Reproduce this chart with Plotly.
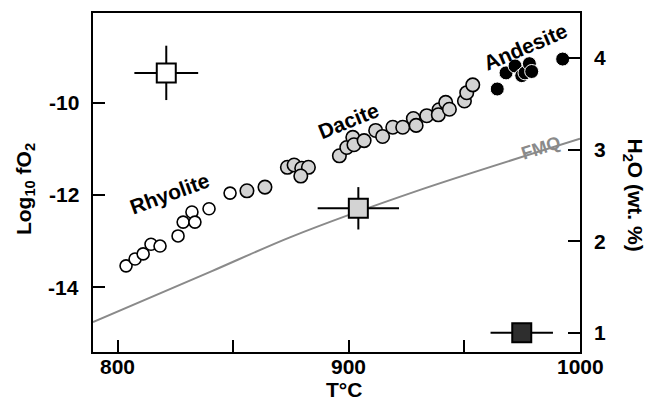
import plotly.graph_objects as go

# ---- data ----
rhy_T = [803.6, 807.5, 811.0, 814.4, 818.3, 826.1, 828.3, 832.1, 833.4, 839.5, 848.6]
rhy_fo2 = [-13.54, -13.39, -13.28, -13.07, -13.11, -12.89, -12.59, -12.37, -12.59, -12.30, -11.96]

dac_T = [855.9, 863.7, 873.4, 876.3, 879.6, 882.5, 879.2, 895.9, 899.1, 901.7, 902.2,
         906.6, 911.6, 914.6, 919.0, 923.3, 927.9, 929.1, 933.7, 939.0, 938.7, 941.9,
         943.5, 950.0, 951.0, 953.6]
dac_fo2 = [-11.91, -11.83, -11.40, -11.35, -11.42, -11.40, -11.59, -11.15, -10.97, -10.75, -10.91,
           -10.82, -10.60, -10.73, -10.53, -10.53, -10.34, -10.49, -10.28, -10.15, -10.26, -9.99,
           -10.14, -9.96, -9.78, -9.61]

and_T = [964.2, 968.0, 971.9, 974.8, 976.2, 978.1, 979.1, 992.5]
and_fo2 = [-9.70, -9.35, -9.20, -9.41, -9.35, -9.15, -9.32, -9.05]

fmq_T = [789.3, 840.5, 874.5, 930.8, 1000.0]
fmq_fo2 = [-14.76, -13.66, -12.92, -11.89, -10.78]

# uncertainty symbols
err_T = [821.0, 904.1, 974.8]
err_fo2 = [-9.35, -12.29, -14.99]
err_dT = [13.8, 17.6, 13.5]
err_dfo2 = [0.59, 0.46, 0.0]
err_fill = ["white", "#d3d3d3", "#2e2e2e"]

x_ticks = [800, 850, 900, 950, 1000]
x_ticktext = ["800", "", "900", "", "1000"]
y_ticks = [-14, -12, -10]
y_ticktext = ["-14", "-12", "-10"]
y2_ticks = [1, 2, 3, 4]
y2_ticktext = ["1", "2", "3", "4"]

labels = ["Rhyolite", "Dacite", "Andesite"]
label_T = [822.3, 900.0, 976.6]
label_fo2 = [-11.96, -10.39, -8.78]
label_ang = [-20, -22, -23]

FONT = "Liberation Sans"

fig = go.Figure()

fig.add_trace(go.Scatter(x=fmq_T, y=fmq_fo2, mode="lines",
                         line=dict(color="#8a8a8a", width=2, shape="spline", smoothing=0.8),
                         showlegend=False, hoverinfo="skip"))

fig.add_trace(go.Scatter(x=rhy_T, y=rhy_fo2, mode="markers",
                         marker=dict(symbol="circle", size=12, color="white", line=dict(color="black", width=1.6)),
                         showlegend=False))
fig.add_trace(go.Scatter(x=dac_T, y=dac_fo2, mode="markers",
                         marker=dict(symbol="circle", size=13.5, color="#d3d3d3", line=dict(color="black", width=1.6)),
                         showlegend=False))
fig.add_trace(go.Scatter(x=and_T, y=and_fo2, mode="markers",
                         marker=dict(symbol="circle", size=14, color="black", line=dict(color="white", width=1)),
                         showlegend=False))

for i in range(len(err_T)):
    fig.add_trace(go.Scatter(
        x=[err_T[i]], y=[err_fo2[i]], mode="markers",
        error_x=dict(type="constant", value=err_dT[i], color="black", thickness=2, width=0),
        error_y=dict(type="constant", value=err_dfo2[i], color="black", thickness=2, width=0, visible=err_dfo2[i] > 0),
        marker=dict(symbol="square", size=19, color=err_fill[i], line=dict(color="black", width=2)),
        showlegend=False))

# dummy trace for right axis
fig.add_trace(go.Scatter(x=[None], y=[None], yaxis="y2", showlegend=False))

for t, xx, yy, a in zip(labels, label_T, label_fo2, label_ang):
    fig.add_annotation(x=xx, y=yy, text="<b>%s</b>" % t, showarrow=False, textangle=a,
                       xanchor="center", yanchor="middle",
                       font=dict(family=FONT, size=21, color="black"))

fig.add_annotation(x=983.1, y=-10.98, text="<b>FMQ</b>", showarrow=False, textangle=-18,
                   xanchor="center", yanchor="middle",
                   font=dict(family=FONT, size=18, color="#8a8a8a"))

# bold tick labels (drawn as text at the tick positions)
tf = dict(family=FONT, size=21, color="black")
for v, t in zip(x_ticks, x_ticktext):
    if t:
        fig.add_annotation(x=v, xref="x", y=-0.044, yref="paper", text="<b>%s</b>" % t, showarrow=False,
                           xanchor="center", yanchor="middle", font=tf)
for v, t in zip(y_ticks, y_ticktext):
    fig.add_annotation(x=-0.024, xref="paper", y=v, yref="y", text="<b>%s</b>" % t, showarrow=False,
                       xanchor="right", yanchor="middle", font=tf)
for v, t in zip(y2_ticks, y2_ticktext):
    fig.add_annotation(x=1.024, xref="paper", y=v, yref="y2", text="<b>%s</b>" % t, showarrow=False,
                       xanchor="left", yanchor="middle", font=tf)

fig.add_annotation(xref="paper", yref="paper", x=-0.14, y=0.48, text="<b>Log<sub>10</sub> fO<sub>2</sub></b>",
                   showarrow=False, textangle=-90, xanchor="center", yanchor="middle",
                   font=dict(family=FONT, size=21, color="black"))
fig.add_annotation(xref="paper", yref="paper", x=1.11, y=0.463, text="<b>H<sub>2</sub>O (wt. %)</b>",
                   showarrow=False, textangle=90, xanchor="center", yanchor="middle",
                   font=dict(family=FONT, size=21, color="black"))
fig.add_annotation(xref="paper", yref="paper", x=0.515, y=-0.112, text="<b>T°C</b>",
                   showarrow=False, xanchor="center", yanchor="middle",
                   font=dict(family=FONT, size=21, color="black"))

fig.update_layout(
    width=647, height=406,
    margin=dict(l=93, r=67, t=13, b=54),
    plot_bgcolor="white", paper_bgcolor="white",
    xaxis=dict(range=[789.3, 1000], tickvals=x_ticks, showticklabels=False, ticks="inside", ticklen=12,
               tickwidth=2, tickcolor="black", showline=True, linecolor="black", linewidth=2, mirror=True,
               showgrid=False, zeroline=False),
    yaxis=dict(range=[-15.41, -8.05], tickvals=y_ticks, showticklabels=False, ticks="inside", ticklen=12,
               tickwidth=2, tickcolor="black",
               showline=True, linecolor="black", linewidth=2, showgrid=False, zeroline=False),
    yaxis2=dict(range=[0.79, 4.49], tickvals=y2_ticks, showticklabels=False, overlaying="y", side="right",
                ticks="inside", ticklen=12,
                tickwidth=2, tickcolor="black", showline=True, linecolor="black", linewidth=2, showgrid=False,
                zeroline=False),
)

fig.write_html("out.html")
